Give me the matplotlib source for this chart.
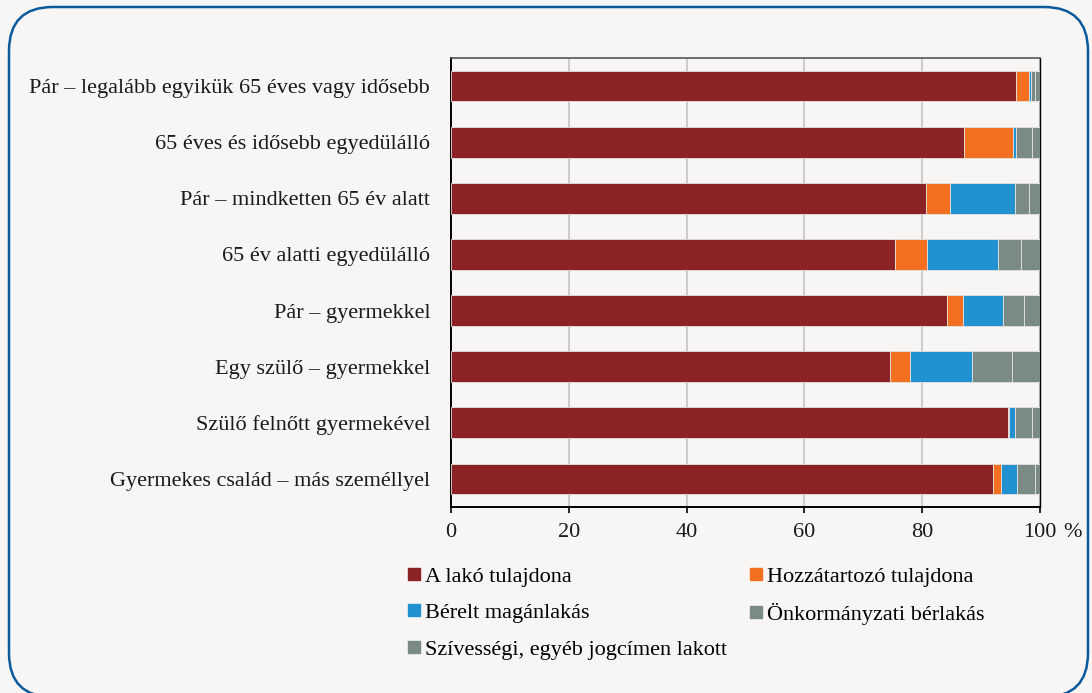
import matplotlib
matplotlib.use("Agg")
import matplotlib.pyplot as plt
from matplotlib.patches import FancyBboxPatch
from matplotlib.lines import Line2D
import numpy as np

plt.rcParams['font.family'] = ['Liberation Serif', 'DejaVu Serif']

# háztartástípusok (felülről lefelé)
categories = [
    "Pár – legalább egyikük 65 éves vagy idősebb",
    "65 éves és idősebb egyedülálló",
    "Pár – mindketten 65 év alatt",
    "65 év alatti egyedülálló",
    "Pár – gyermekkel",
    "Egy szülő – gyermekkel",
    "Szülő felnőtt gyermekével",
    "Gyermekes család – más személlyel",
]
lako_tulajdona = [95.9, 87.1, 80.6, 75.4, 84.2, 74.6, 94.5, 92.1]
hozzatartozo = [2.3, 8.3, 4.1, 5.4, 2.8, 3.4, 0.2, 1.3]
berelt = [0.2, 0.5, 11.0, 12.1, 6.8, 10.5, 1.0, 2.7]
onkormanyzati = [0.8, 2.8, 2.4, 3.9, 3.4, 6.7, 3.0, 3.0]
szivessegi = [0.8, 1.3, 1.9, 3.2, 2.8, 4.8, 1.3, 0.9]

series = [
    ("A lakó tulajdona", lako_tulajdona, "#8b2326"),
    ("Hozzátartozó tulajdona", hozzatartozo, "#f37021"),
    ("Bérelt magánlakás", berelt, "#2191d0"),
    ("Önkormányzati bérlakás", onkormanyzati, "#7a8a84"),
    ("Szívességi, egyéb jogcímen lakott", szivessegi, "#7a8a84"),
]
xticks = [0, 20, 40, 60, 80, 100]

bg = "#f7f6f4"
fs = 16

W, H = 1092, 693
fig = plt.figure(figsize=(W / 100, H / 100), dpi=100)
fig.patch.set_facecolor(bg)

# lekerekített keret, pixel koordinátákban (y lentről felfelé)
frame_ax = fig.add_axes([0, 0, 1, 1], zorder=-1)
frame_ax.set_xlim(0, W)
frame_ax.set_ylim(0, H)
frame_ax.axis("off")
frame = FancyBboxPatch((9, H - 697), 1088 - 9, 697 - 7,
                       boxstyle="round,pad=0,rounding_size=44",
                       facecolor="none", edgecolor="#0b5a9c",
                       linewidth=1.8, clip_on=False)
frame_ax.add_patch(frame)

ax = fig.add_axes([451 / W, (H - 507) / H, 589 / W, 449 / H])
ax.set_facecolor(bg)

y = np.arange(len(categories))
left = np.zeros(len(categories))
for name, vals, col in series:
    ax.barh(y, vals, left=left, height=0.55, color=col,
            edgecolor="#e8e2e0", linewidth=0.6, zorder=3)
    left += np.array(vals)

ax.set_xlim(0, 100)
ax.set_ylim(len(categories) - 0.5, -0.5)
ax.set_yticks(y)
ax.set_yticklabels(categories, fontsize=fs, color="#1a1a1a")
ax.tick_params(axis="y", length=0, pad=15)
ax.set_xticks(xticks)
ax.set_xticklabels([str(t) for t in xticks], fontsize=fs, color="#1a1a1a")
ax.tick_params(axis="x", length=4.5, width=1.2, direction="out", pad=7)
ax.annotate("%", xy=(100, 0), xycoords=("data", "axes fraction"),
            xytext=(17, -11.5), textcoords="offset points",
            fontsize=fs, color="#1a1a1a", va="top", ha="left")

ax.grid(axis="x", color="#c4c4c4", linewidth=1.2, zorder=0)
ax.set_axisbelow(True)
for s in ["left", "bottom", "right"]:
    ax.spines[s].set_color("black")
    ax.spines[s].set_linewidth(1.4)
ax.spines["right"].set_linewidth(1.0)
ax.spines["top"].set_color("#555555")
ax.spines["top"].set_linewidth(1.2)

# jelmagyarázat: sorfolytonos sorrend
order = [0, 2, 4, 1, 3]
handles = [Line2D([], [], marker="s", linestyle="none", markersize=8.6,
                  markerfacecolor=series[i][2], markeredgecolor=series[i][2])
           for i in order]
labels = [series[i][0] for i in order]
fig.legend(handles, labels, ncol=2, loc="upper left",
           bbox_to_anchor=(407 / W, 1 - 566 / H), frameon=False,
           fontsize=fs, handlelength=0.6, handletextpad=0.2,
           columnspacing=1.0, labelspacing=0.72, borderaxespad=0,
           borderpad=0)

fig.savefig("out.png", dpi=100, facecolor=bg)
